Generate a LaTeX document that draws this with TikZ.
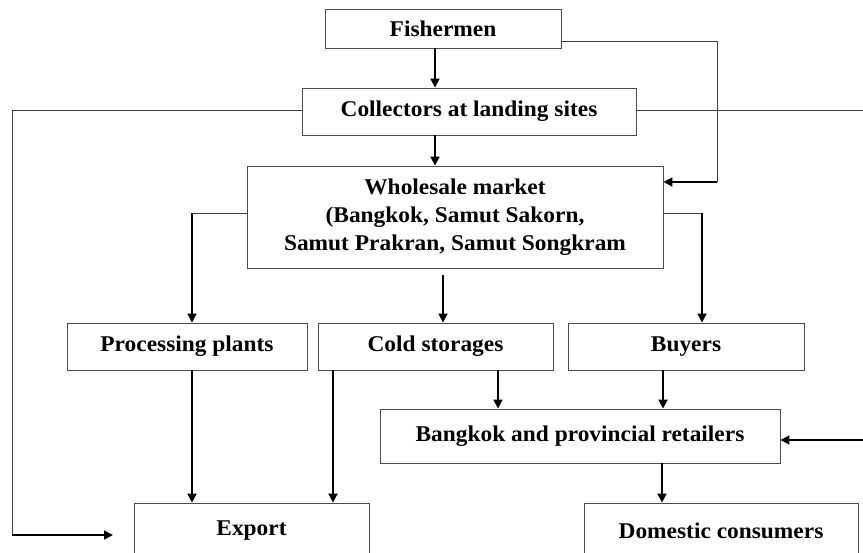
\documentclass[tikz,border=0pt]{standalone}
\usepackage{fontspec}
\setmainfont{Liberation Serif}[FakeStretch=1.04]
\usetikzlibrary{arrows.meta}

\tikzset{
  box/.style={draw=black!70, line width=0.9pt, rectangle, inner sep=0pt,
    font=\fontsize{22.5}{28}\selectfont\bfseries, align=center},
  link/.style={draw=black!75, line width=0.9pt},
  arr/.style={draw=black, line width=1.8pt,
    -{Triangle[length=9pt,width=9pt]}},
}

\begin{document}
\begin{tikzpicture}[x=1pt,y=-1pt]
\useasboundingbox (0,0) rectangle (863,553);
\clip (0,0) rectangle (863,553);

% boxes of the supply chain
\node[box, minimum width=236, minimum height=39] (fish) at (443,28.5) {Fishermen};
\node[box, minimum width=334, minimum height=47] (coll) at (469,111.5) {Collectors at landing sites};
\node[box, minimum width=416, minimum height=102] (whole) at (455,217)
  {Wholesale market\\(Bangkok, Samut Sakorn,\\Samut Prakran, Samut Songkram};
\node[box, minimum width=240, minimum height=47] (proc) at (187,346.5) {Processing plants};
\node[box, minimum width=235, minimum height=47] (cold) at (435.5,346.5) {Cold storages};
\node[box, minimum width=236, minimum height=47] (buy) at (686,346.5) {Buyers};
\node[box, minimum width=400, minimum height=54] (ret) at (580,436) {Bangkok and provincial retailers};
\node[box, minimum width=235, minimum height=56] (exp) at (251.5,531) {Export};
\node[box, minimum width=274, minimum height=56] (dom) at (721,531) {Domestic consumers};

% routing points
\coordinate (fishR) at (717,41);
\coordinate (fishD) at (717,182);
\coordinate (collL) at (12,110);
\coordinate (collLD) at (12,535);
\coordinate (expIn) at (113,535);
\coordinate (collR) at (868,110);
\coordinate (collRD) at (868,440);
\coordinate (wholeL) at (192,213);
\coordinate (wholeR) at (702,213);
\coordinate (wholeB) at (443,275);

% main chain
\draw[arr] (fish.south -| 435,0) -- (coll.north -| 435,0);
\draw[arr] (coll.south -| 435,0) -- (whole.north -| 435,0);

% fishermen straight to wholesale market
\draw[link] (fish.east |- fishR) -- (fishR) -- (fishD);
\draw[arr] (fishD) -- (whole.east |- fishD);

% collectors to export
\draw[link] (coll.west |- collL) -- (collL) -- (collLD);
\draw[arr] (collLD) -- (expIn);

% collectors to retailers
\draw[link] (coll.east |- collR) -- (collR) -- (collRD);
\draw[arr] (collRD) -- (ret.east |- collRD);

% wholesale market outlets
\draw[link] (whole.west |- wholeL) -- (wholeL);
\draw[arr] (wholeL) -- (proc.north -| wholeL);
\draw[link] (whole.east |- wholeR) -- (wholeR);
\draw[arr] (wholeR) -- (buy.north -| wholeR);
\draw[arr] (wholeB) -- (cold.north -| wholeB);

% towards export
\draw[arr] (proc.south -| 192,0) -- (exp.north -| 192,0);
\draw[arr] (cold.south -| 333,0) -- (exp.north -| 333,0);

% towards retailers and consumers
\draw[arr] (cold.south -| 498,0) -- (ret.north -| 498,0);
\draw[arr] (buy.south -| 663,0) -- (ret.north -| 663,0);
\draw[arr] (ret.south -| 662,0) -- (dom.north -| 662,0);
\end{tikzpicture}
\end{document}
